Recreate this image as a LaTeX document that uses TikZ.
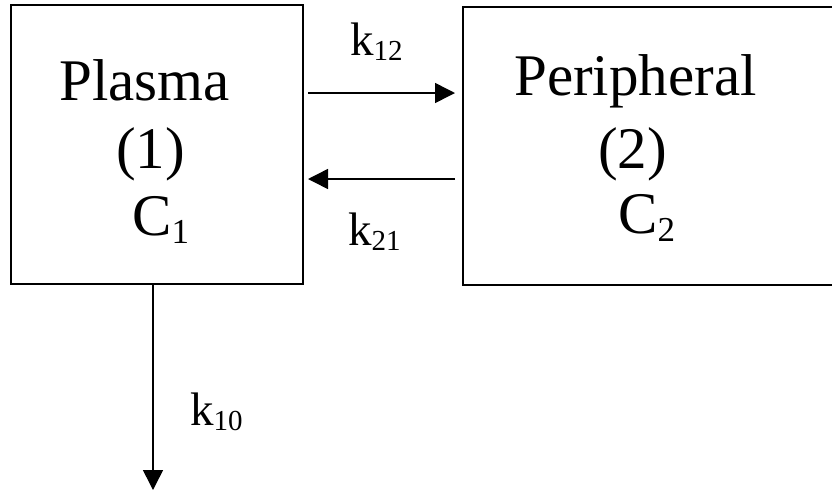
\documentclass[tikz,border=0pt]{standalone}
\usepackage{fontspec}
\setmainfont{Liberation Serif}
\usetikzlibrary{arrows.meta}
\begin{document}
\begin{tikzpicture}[x=1pt,y=1pt,
  compbox/.style={draw,line width=1.8pt,rectangle,inner sep=0pt,outer sep=0pt,anchor=north west},
  bigtxt/.style={inner sep=0pt,anchor=base west,font=\fontsize{59}{62}\selectfont},
  ktxt/.style={inner sep=0pt,anchor=base west,font=\fontsize{47}{50}\selectfont},
  arr/.style={line width=1.5pt,-{Triangle[length=20pt,width=20pt]}}]
\useasboundingbox (0,0) rectangle (832,-491);
% boxes
\node[compbox,minimum width=292pt,minimum height=279pt] (P) at (11,-5) {};
\node[compbox,minimum width=380pt,minimum height=278pt] (Q) at (463,-7) {};
% texts in boxes
\node[bigtxt] (pl) at (59,-100) {Plasma};
\node[bigtxt] (p1) at (116,-168) {(1)};
\node[bigtxt] (c1) at (132,-235) {C\raisebox{-8pt}{\fontsize{35}{36}\selectfont 1}};
\node[bigtxt] (pe) at (514,-95) {Peripheral};
\node[bigtxt] (p2) at (598,-168) {(2)};
\node[bigtxt] (c2) at (618,-233) {C\raisebox{-8pt}{\fontsize{35}{36}\selectfont 2}};
% rate labels
\node[ktxt] (k12) at (350,-55) {k\raisebox{-5pt}{\fontsize{29}{30}\selectfont 12}};
\node[ktxt] (k21) at (348,-245) {k\raisebox{-5pt}{\fontsize{29}{30}\selectfont 21}};
\node[ktxt] (k10) at (190,-425) {k\raisebox{-5pt}{\fontsize{29}{30}\selectfont 10}};
% connectors
\path ([shift={(5,51.5)}]P.east) coordinate (t1);
\path ([shift={(5,-34.5)}]P.east) coordinate (t2);
\coordinate (out) at (153,-490);
\draw[arr,shorten >=8pt] (t1) -- (t1 -| Q.west);
\draw[arr,shorten <=8pt] (t2 -| Q.west) -- (t2);
\draw[arr] (out |- P.south) -- (out);
\end{tikzpicture}
\end{document}
